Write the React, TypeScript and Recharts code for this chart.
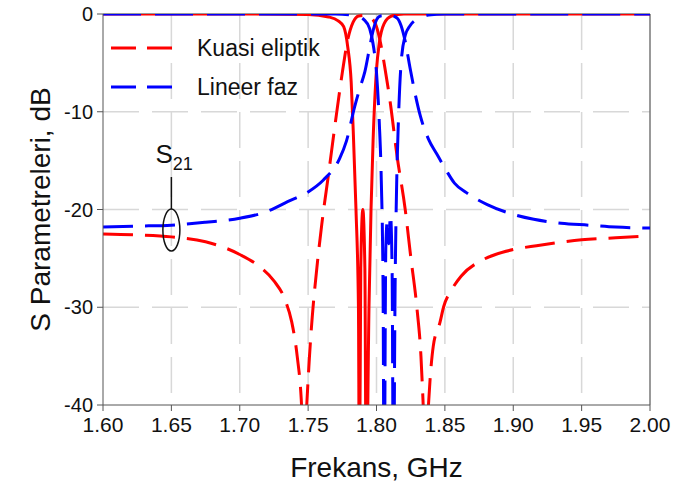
import {
  Customized,
  Label,
  Line,
  LineChart,
  ReferenceDot,
  XAxis,
  YAxis,
} from "recharts";

const FONT = "'Liberation Sans', Arial, sans-serif";
const RED = "#ff0000";
const BLUE = "#0000ff";
const GRID = "#d8d8d8";

const freqTicks = [1.6, 1.65, 1.7, 1.75, 1.8, 1.85, 1.9, 1.95, 2.0];
const dbTicks = [-40, -30, -20, -10, 0];

// Kuasi eliptik, S21
const kuasiS21Freq = [
  1.6, 1.625, 1.65, 1.675, 1.7, 1.715, 1.725, 1.733, 1.738, 1.742, 1.745, 1.747,
  1.749, 1.751, 1.753, 1.756, 1.76, 1.765, 1.77, 1.775, 1.779, 1.783, 1.787,
  1.793, 1.797, 1.8, 1.803, 1.806, 1.81, 1.815, 1.821, 1.825, 1.8295, 1.8325,
  1.834, 1.836, 1.838, 1.8415, 1.8465, 1.849, 1.855, 1.862, 1.877, 1.887, 1.9,
  1.917, 1.95, 1.975, 2.0,
];
const kuasiS21Db = [
  -22.5, -22.6, -22.8, -23.3, -24.6, -25.9, -27.3, -29.2, -31.5, -35, -39.5, -46,
  -40, -35, -31, -26.5, -21.5, -16.3, -11, -6, -2.6, -0.8, -0.2,
  -0.15, -0.5, -1.3, -3, -5.4, -9, -14.5, -20, -24.8, -30, -35,
  -39.5, -46, -40, -34, -31.5, -30, -28.2, -26.8, -25.2, -24.6, -24.1,
  -23.7, -23.1, -22.9, -22.7,
];

// Kuasi eliptik, S11
const kuasiS11Freq = [
  1.6, 1.7, 1.75, 1.765, 1.772, 1.776, 1.779, 1.7815, 1.783, 1.785, 1.7868,
  1.7875, 1.7885, 1.79, 1.7915, 1.7925, 1.7945, 1.796, 1.7975, 1.8, 1.802,
  1.8055, 1.811, 1.82, 2.0,
];
const kuasiS11Db = [
  0, 0, -0.05, -0.3, -0.7, -1.3, -3.4, -7, -12, -20, -30,
  -50, -26, -20, -26, -50, -30, -20, -13, -5.7, -3,
  -1, -0.2, 0, 0,
];

// Lineer faz, S21
const lineerS21Freq = [
  1.6, 1.625, 1.65, 1.675, 1.7, 1.72, 1.735, 1.75, 1.761, 1.773, 1.778, 1.784,
  1.788, 1.7915, 1.795, 1.797, 1.8, 1.803, 1.81, 1.815, 1.818, 1.821, 1.8245,
  1.828, 1.832, 1.838, 1.844, 1.851, 1.857, 1.866, 1.881, 1.9, 1.915, 1.935,
  1.955, 1.975, 2.0,
];
const lineerS21Db = [
  -21.8, -21.7, -21.6, -21.3, -20.9, -20.2, -19.2, -18.2, -17, -14.8, -13, -9.5,
  -7.5, -5.9, -3.4, -2, -0.6, -0.2, -0.15, -0.4, -1.2, -2.8, -5.5,
  -8, -10.4, -12.8, -14.3, -16, -17.3, -18.3, -19.5, -20.5, -21, -21.4,
  -21.6, -21.8, -21.9,
];

// Lineer faz, S11
const lineerS11Freq = [
  1.6, 1.77, 1.785, 1.791, 1.795, 1.798, 1.8, 1.802, 1.8035, 1.8048, 1.8056,
  1.8068, 1.808, 1.809, 1.8102, 1.8114, 1.8124, 1.8136, 1.8148, 1.816, 1.818,
  1.821, 1.8245, 1.83, 1.838, 1.85, 2.0,
];
const lineerS11Db = [
  0, 0, -0.2, -0.6, -1.5, -3.5, -6, -11, -17, -28, -50,
  -24, -21, -23.5, -20.5, -26, -50, -28, -17, -11, -5,
  -2.2, -1.2, -0.5, -0.1, 0, 0,
];

const toRows = (freq: number[], db: number[]) =>
  freq.map((f, i) => ({ f, db: db[i] }));

const fMin = freqTicks[0];
const fMax = freqTicks[freqTicks.length - 1];
const dbMin = dbTicks[0];
const dbMax = dbTicks[dbTicks.length - 1];

// chart layout
const CHART_W = 676;
const CHART_H = 490;
const MARGIN = { top: 14, right: 26, left: 10, bottom: 10 };
const Y_AXIS_W = 93;
const X_AXIS_H = 75;
const plot = {
  x: MARGIN.left + Y_AXIS_W,
  y: MARGIN.top,
  w: CHART_W - MARGIN.left - Y_AXIS_W - MARGIN.right,
  h: CHART_H - MARGIN.top - MARGIN.bottom - X_AXIS_H,
};

// dashed grid at the inner ticks plus the right/top edges of the frame,
// drawn on its own svg underneath the (transparent) chart surface
function GridFrame() {
  const px = (f: number) => plot.x + ((f - fMin) / (fMax - fMin)) * plot.w;
  const py = (db: number) => plot.y + ((dbMax - db) / (dbMax - dbMin)) * plot.h;
  return (
    <svg
      width={CHART_W}
      height={CHART_H}
      style={{ position: "absolute", left: 0, top: 0 }}
    >
      {freqTicks.slice(1, -1).map((t) => (
        <line
          key={`gx${t}`}
          x1={px(t)}
          x2={px(t)}
          y1={py(dbMax)}
          y2={py(dbMin)}
          stroke={GRID}
          strokeWidth={1.5}
          strokeDasharray="36 13"
        />
      ))}
      {dbTicks.slice(1, -1).map((t) => (
        <line
          key={`gy${t}`}
          x1={px(fMin)}
          x2={px(fMax)}
          y1={py(t)}
          y2={py(t)}
          stroke={GRID}
          strokeWidth={1.5}
          strokeDasharray="36 13"
        />
      ))}
      <line
        x1={px(fMax)}
        x2={px(fMax)}
        y1={py(dbMax)}
        y2={py(dbMin)}
        stroke="#777"
        strokeWidth={1.5}
      />
      <line
        x1={px(fMin)}
        x2={px(fMax)}
        y1={py(dbMax)}
        y2={py(dbMax)}
        stroke="#777"
        strokeWidth={1.5}
      />
    </svg>
  );
}

const legendItems = [
  { name: "Kuasi eliptik", color: RED },
  { name: "Lineer faz", color: BLUE },
];

function LegendBox() {
  return (
    <g>
      {legendItems.map((item, i) => (
        <g key={item.name} transform={`translate(111, ${48 + i * 39})`}>
          <line
            x1={0}
            x2={61}
            y1={0}
            y2={0}
            stroke={item.color}
            strokeWidth={3}
            strokeDasharray="25 11"
          />
          <text
            x={86}
            y={0}
            dy="0.35em"
            fontSize={23}
            fontFamily={FONT}
            fill="#111"
          >
            {item.name}
          </text>
        </g>
      ))}
    </g>
  );
}

function S21Marker(props: any) {
  const { cx, cy } = props;
  return (
    <g>
      <ellipse cx={cx} cy={cy} rx={8.5} ry={21} fill="none" stroke="#111" strokeWidth={1.5} />
      <line x1={cx} x2={cx} y1={cy - 21} y2={cy - 53} stroke="#111" strokeWidth={1.5} />
      <text x={cx - 16} y={cy - 67} fontSize={26} fontFamily={FONT} fill="#111">
        S
        <tspan fontSize={18} dy={7}>
          21
        </tspan>
      </text>
    </g>
  );
}

export default function App() {
  return (
    <div
      style={{
        position: "absolute",
        left: 0,
        top: 0,
        width: CHART_W,
        height: CHART_H,
        fontFamily: FONT,
      }}
    >
      <GridFrame />
      <div style={{ position: "absolute", left: 0, top: 0 }}>
        <LineChart width={CHART_W} height={CHART_H} margin={MARGIN}>
          <XAxis
            dataKey="f"
            type="number"
            domain={[fMin, fMax]}
            ticks={freqTicks}
            allowDataOverflow
            tickFormatter={(v: number) => v.toFixed(2)}
            height={X_AXIS_H}
            tickSize={6}
            stroke="#555"
            tick={{ fontSize: 21, fill: "#111", fontFamily: FONT }}
            tickMargin={6}
          >
            <Label
              value="Frekans, GHz"
              position="insideBottom"
              offset={3}
              style={{ fontSize: 28, fill: "#111", fontFamily: FONT }}
            />
          </XAxis>
          <YAxis
            type="number"
            domain={[dbMin, dbMax]}
            ticks={dbTicks}
            allowDataOverflow
            width={Y_AXIS_W}
            tickSize={6}
            stroke="#555"
            tick={{ fontSize: 20, fill: "#111", fontFamily: FONT }}
            tickMargin={4}
          >
            <Label
              content={(p: any) => {
                const vb = p.viewBox;
                const x = vb.x + 30;
                const y = vb.y + vb.height / 2;
                return (
                  <text
                    x={x}
                    y={y}
                    transform={`rotate(-90, ${x}, ${y})`}
                    textAnchor="middle"
                    dy="0.35em"
                    fontSize={28}
                    fontFamily={FONT}
                    fill="#111"
                  >
                    S Parametreleri, dB
                  </text>
                );
              }}
            />
          </YAxis>

          <Line
            data={toRows(kuasiS11Freq, kuasiS11Db)}
            dataKey="db"
            type="monotone"
            stroke={RED}
            strokeWidth={3}
            dot={false}
            isAnimationActive={false}
          />
          <Line
            data={toRows(kuasiS21Freq, kuasiS21Db)}
            dataKey="db"
            type="monotone"
            stroke={RED}
            strokeWidth={3}
            strokeDasharray="30 12"
            dot={false}
            isAnimationActive={false}
          />
          <Line
            data={toRows(lineerS21Freq, lineerS21Db)}
            dataKey="db"
            type="monotone"
            stroke={BLUE}
            strokeWidth={3}
            strokeDasharray="30 12"
            dot={false}
            isAnimationActive={false}
          />
          <Line
            data={toRows(lineerS11Freq, lineerS11Db)}
            dataKey="db"
            type="monotone"
            stroke={BLUE}
            strokeWidth={3}
            strokeDasharray="38 14"
            dot={false}
            isAnimationActive={false}
          />
          <ReferenceDot x={1.65} y={-22.1} shape={S21Marker} />
          <Customized component={LegendBox} />
        </LineChart>
      </div>
    </div>
  );
}
